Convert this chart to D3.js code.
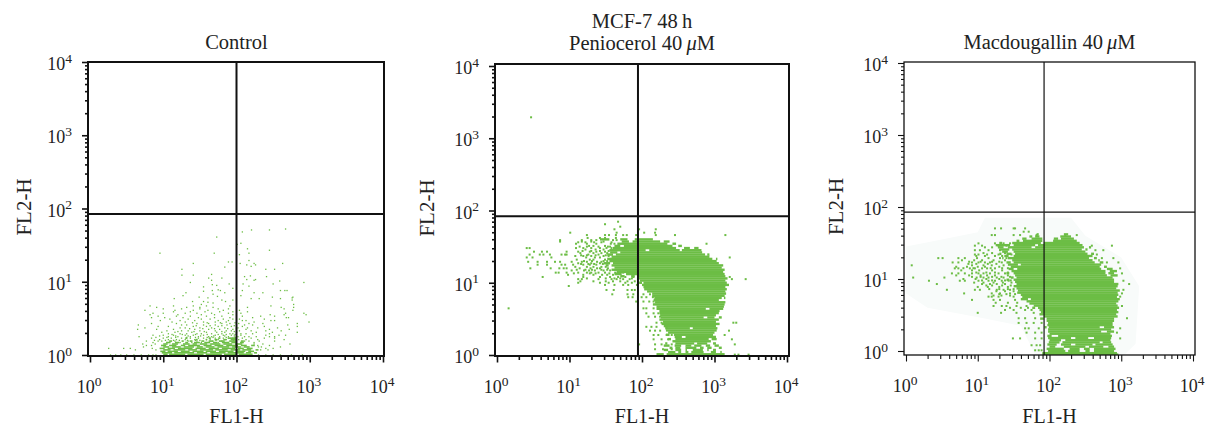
<!DOCTYPE html>
<html>
<head>
<meta charset="utf-8">
<style>
  body { margin: 0; background: #fff; }
  text { font-family: "Liberation Serif", serif; fill: #222; }
</style>
<script src="https://cdn.jsdelivr.net/npm/d3@7"></script>
</head>
<body>
<div id="chart"></div>
<script>
// values below are read off the picture, as log10 of FL1 / FL2
// events rows are [log FL2, [log FL1, ...]]
// spans rows are [log FL2, [[from log FL1, to log FL1], ...]], the solid runs of the cloud

const decades = [0, 1, 2, 3, 4]
const xLabel = "FL1-H"
const yLabel = "FL2-H"
const gateX = [100, 88, 84]
const gateY = [84, 83, 85]

const controlSpans = [
  [.23,[[1.3,1.33],[1.62,1.65],[1.75,1.78],[1.88,2]]],
  [.21,[[1.44,1.47],[1.58,1.6],[1.7,1.74],[1.82,1.86],[1.92,2]]],
  [.19,[[1.08,1.12],[1.25,1.28],[1.36,1.4],[1.52,1.56],[1.62,1.68],[1.76,1.84],[1.9,2],[2.06,2.1]]],
  [.17,[[1.04,1.1],[1.16,1.22],[1.3,1.34],[1.42,1.5],[1.56,1.64],[1.68,1.74],[1.8,1.9],[1.93,2],[2.05,2.1]]],
  [.15,[[1,1.06],[1.12,1.2],[1.27,1.36],[1.4,1.46],[1.5,1.6],[1.64,1.78],[1.82,1.94],[1.98,2.08]]],
  [.13,[[.97,1.04],[1.08,1.18],[1.24,1.3],[1.34,1.5],[1.55,1.66],[1.7,1.82],[1.86,2.02],[2.06,2.14],[2.2,2.25]]],
  [.11,[[1,1.08],[1.12,1.24],[1.28,1.42],[1.46,1.54],[1.58,1.7],[1.74,1.9],[1.94,2.06],[2.1,2.18]]],
  [.09,[[.95,1.02],[1.06,1.16],[1.2,1.4],[1.44,1.58],[1.62,1.76],[1.8,1.98],[2.02,2.1],[2.14,2.22]]],
  [.07,[[1,1.1],[1.14,1.3],[1.34,1.46],[1.5,1.68],[1.71,1.88],[1.92,2.05],[2.08,2.2],[2.26,2.3]]],
  [.05,[[.96,1.03],[1.06,1.2],[1.24,1.36],[1.4,1.55],[1.58,1.72],[1.76,1.96],[2,2.12],[2.16,2.24]]],
  [.03,[[.98,1.12],[1.15,1.42],[1.46,1.6],[1.64,1.85],[1.88,2.1],[2.13,2.2],[2.24,2.28]]],
  [.01,[[1,1.06],[1.08,1.3],[1.33,1.55],[1.58,1.8],[1.83,2],[2.03,2.22]]]
]

const controlEvents = [
  [1.72,[2.67]],[1.707,[2.205,2.45]],[1.68,[2.08]],[1.61,[1.73]],[1.525,[2.06]],[1.51,[2.01]],
  [1.45,[2.15]],[1.43,[2.45]],[1.39,[.955,1.696,2.17]],[1.37,[2.04]],[1.29,[2.17]],
  [1.27,[1.89,1.94]],[1.25,[1.41,2.05,2.24,2.63]],[1.23,[2.14,2.26]],[1.21,[2.2]],[1.2,[1.84]],
  [1.17,[1.255,2.4,2.52]],[1.1,[1.66]],[1.09,[1.255,1.41]],[1.08,[2.19]],[1.07,[2.11,2.41]],
  [1.05,[1.62,1.8]],[1.03,[2.14,2.26]],[1.02,[1.66,2.24]],[1.01,[2.59]],[.99,[1.37,2.92]],
  [.97,[1.9,2.09,2.5]],[.96,[1.67]],[.95,[1.73]],[.94,[2.17]],[.93,[1.55]],[.91,[1.95]],
  [.89,[1.75]],[.88,[1.67,1.78,2.08,2.6,2.66,2.69]],[.87,[1.55]],[.85,[1.31,1.84,2.24,2.36]],
  [.83,[1.68]],[.81,[1.27,2.06]],[.8,[1.74]],[.79,[1.49,2.49,2.77]],[.78,[1.61,2.76]],
  [.77,[1.15,2.2,2.31,2.6]],[.75,[1.8,1.95,2.76]],[.73,[1.4,1.55,1.85]],[.72,[1.61]],[.71,[1.68]],
  [.69,[1.52,2.78]],
  [.67,[.82,1.14,1.41,1.59,1.91,2.47]],[.65,[.91,1.32,1.5,1.68,2.15,2.61,2.78]],
  [.63,[1,1.25,1.5,1.75,1.89,2.65]],[.61,[.75,1.16,1.41,1.61,1.82,2.04,2.77]],
  [.59,[1.14,1.37,1.57,1.77,1.95,2.15]],[.57,[.86,1,1.3,1.46,1.66,1.89,2.06,2.67,2.92]],
  [.55,[.82,1.2,1.52,1.7,1.95,2.46,2.65,2.95]],[.53,[.93,1.18,1.37,1.59,1.8,2.08,2.33,2.52]],
  [.51,[.84,1.02,1.27,1.48,1.7,1.91,2.22,2.68,2.71]],[.49,[1.09,1.34,1.52,1.64,1.82,1.95,2.04,2.38]],
  [.47,[.96,1.23,1.43,1.75,1.89,2.08,2.13,2.47,2.52]],[.45,[1.12,1.3,1.55,1.71,1.86,2.24,2.99]],
  [.44,[1.4,1.6,1.78,1.98]],
  [.43,[.84,1.18,1.46,1.62,1.8,1.91,2.03,2.17,2.36,2.83]],[.41,[.66,1.25,1.32,1.55,1.71,1.87,2.11,2.22,2.7]],
  [.4,[1.45,1.64,1.8,1.97]],
  [.39,[.93,1.07,1.41,1.59,1.75,1.93,2.08,2.38,2.83]],[.37,[.75,1.23,1.3,1.5,1.66,1.84,2.02,2.15,2.29,2.56]],
  [.36,[1.36,1.54,1.7,1.88,2]],
  [.35,[.65,.91,1.14,1.43,1.62,1.77,1.95,2.13,2.45,2.72]],[.33,[1.05,1.25,1.34,1.5,1.71,1.86,1.93,2.04,2.2,2.4,2.61]],
  [.32,[1.2,1.42,1.56,1.8,1.97]],
  [.31,[.98,1.16,1.39,1.59,1.73,1.84,2,2.27,2.49,2.83]],[.29,[1.07,1.23,1.32,1.46,1.52,1.66,1.8,1.91,1.95,2.06,2.13,2.22,2.45]],
  [.28,[1.12,1.26,1.44,1.6,1.75,1.86,1.98]],
  [.27,[.86,1,1.14,1.3,1.41,1.55,1.71,1.82,1.93,2.06,2.4,2.58,2.67]],[.26,[.95,1.17,1.34,1.51,1.69,1.84,1.97]],
  [.25,[.67,1.07,1.2,1.37,1.48,1.62,1.66,1.77,1.89,2.02,2.11,2.17,2.27,2.45,2.52]],
  [.24,[.9,1.05,1.17,1.32,1.44,1.6,1.68,1.86,1.98]],
  [.23,[.84,1,1.11,1.25,1.37,1.48,1.55,1.71,1.82,1.95,2.08,2.2,2.38,2.52]],[.21,[.95,1.07,1.18,1.3,1.43,1.59,1.64,1.75,1.86,2.03,2.13,2.29,2.65]],
  [.2,[.88,1.03,1.14,1.22,1.33,1.44,1.5,1.72,1.96]],
  [.19,[.77,.93,.98,1.16,1.34,1.46,1.68,1.8,2.11,2.17,2.31,2.52]],[.17,[.86,1.05,1.23,1.39,1.52,1.75,1.89,2.06,2.24]],
  [.15,[.72,.89,2.24,2.36,2.73]],[.13,[.77,.84,2.29,2.45]],[.11,[.73,2.3,2.34,2.6]],
  [.09,[.255,.46,.55,.85,2.4,2.5]],[.07,[.62,.9,2.33,2.43]],
  [0,[.28,.35,.42,.5,.6,.7,.8,.86,.9,2.3,2.4,2.5,2.6,2.75,2.9]]
]

const penioSpans = [
  [1.6,[[1.42,1.55],[1.7,1.8],[1.9,2.15]]],
  [1.57,[[1.72,1.82],[1.87,2.25],[2.3,2.38]]],
  [1.54,[[1.66,2.35],[2.42,2.47]]],
  [1.51,[[1.62,1.7],[1.75,2.42],[2.5,2.55]]],
  [1.48,[[1.6,2.47],[2.58,2.66],[2.72,2.78]]],
  [1.45,[[1.55,2.05],[2.1,2.52],[2.55,2.82]]],
  [1.42,[[1.56,1.66],[1.7,2.83]]],
  [1.39,[[1.52,1.6],[1.64,2.87],[2.9,2.93]]],
  [1.36,[[1.58,2.93]]],
  [1.33,[[1.52,2.97],[3.02,3.04]]],
  [1.3,[[1.55,3.03]]],
  [1.27,[[1.47,1.56],[1.6,3.06]]],
  [1.24,[[1.5,1.54],[1.58,3.12]]],
  [1.21,[[1.62,3.1]]],
  [1.18,[[1.58,3.14]]],
  [1.15,[[1.65,3.12]]],
  [1.12,[[1.62,1.72],[1.78,3.14]]],
  [1.09,[[1.7,1.76],[1.85,1.9],[1.94,3.15]]],
  [1.06,[[1.95,3.18]]],
  [1.03,[[1.97,3.15]]],
  [1,[[1.96,2],[2.02,3.17]]],
  [.97,[[2,3.2]]],
  [.94,[[2.02,3.15]]],
  [.91,[[2.03,3.17]]],
  [.88,[[2.07,3.15]]],
  [.85,[[2.14,3.16]]],
  [.82,[[2.14,3.14]]],
  [.79,[[2.17,3.1],[3.13,3.15]]],
  [.76,[[2.16,3.06]]],
  [.73,[[2.18,3.15]]],
  [.7,[[2.15,3.14]]],
  [.67,[[2.2,3.13]]],
  [.64,[[2.2,2.88],[2.93,3.12]]],
  [.61,[[2.24,3.07]]],
  [.58,[[2.24,3.06]]],
  [.55,[[2.25,3.02]]],
  [.52,[[2.26,2.85],[2.9,3],[3.06,3.1]]],
  [.49,[[2.24,3.06]]],
  [.46,[[2.29,3.02]]],
  [.43,[[2.27,3.07]]],
  [.4,[[2.3,3.02]]],
  [.37,[[2.32,2.66],[2.7,3.04]]],
  [.34,[[2.33,3.03]]],
  [.31,[[2.36,3]]],
  [.28,[[2.33,2.38],[2.44,2.98]]],
  [.25,[[2.45,2.55],[2.6,3.02]]],
  [.22,[[2.36,2.4],[2.46,2.92],[2.96,3.03]]],
  [.19,[[2.42,2.95]]],
  [.16,[[2.32,2.35],[2.46,2.72],[2.76,2.9],[2.98,3.02]]],
  [.13,[[2.3,2.38],[2.45,2.54],[2.6,2.68],[2.72,2.82],[2.88,2.94],[3,3.06]]],
  [.1,[[2.38,2.42],[2.46,2.53],[2.6,2.75],[2.8,2.85],[2.9,2.96],[3.06,3.1]]],
  [.07,[[2.3,2.36],[2.46,2.54],[2.6,2.62],[2.7,2.84],[2.9,2.92],[2.98,3.02]]],
  [.04,[[2.36,2.46],[2.5,2.54],[2.6,2.64],[2.68,2.85],[2.95,3.02],[3.08,3.1]]],
  [.01,[[2.2,2.3],[2.34,3.14]]]
]

const penioEvents = [
  [3.29,[.47]],[1.845,[1.67]],[1.81,[1.49]],[1.776,[1.7]],[1.74,[1.62,1.96,2.19]],[1.693,[1.01,1.65,2.03,2.18]],
  [1.66,[1.24,1.49,1.545,1.64,1.74,1.79,1.92,2.19,2.455,3.15]],[1.62,[1.25,1.42,1.49,1.64]],
  [1.59,[.87,1.17,1.3,1.37,1.6,1.65]],[1.57,[.87,1.17,1.3,1.47]],[1.56,[1.12,1.22,1.34,1.44,1.58]],
  [1.54,[1.09,1.24,1.37,1.57,1.62,2.89]],[1.51,[1.27,1.33,1.49]],[1.5,[1.14,1.24,1.4,1.53,1.56]],
  [1.48,[.41,.45,1.09,1.19,1.3,1.42,1.51,1.58]],[1.46,[1.22,1.36,1.47]],[1.44,[1.18,1.3,1.42,1.54]],
  [1.43,[.51,.62,.69,.96,1.12,1.28,1.37,1.49]],[1.41,[1.15,1.33,1.44,1.52]],
  [1.39,[.45,.59,.64,.73,.89,.94,.96,1.26,1.4]],[1.38,[1.16,1.24,1.36,1.5]],[1.37,[1.08,1.19,1.3,1.47,1.54]],
  [1.35,[.41,.49,.75,1.23,1.35,1.42,3.21]],[1.32,[1.1,1.28,1.33,1.49]],[1.3,[1.2,1.31,1.47,1.52]],
  [1.29,[.43,.56,.69,.8,.87,1.03,1.17,1.24,1.38,1.44]],[1.27,[1.12,1.3,1.42]],[1.26,[1.16,1.26,1.34,1.46]],
  [1.25,[.56,.69,.89,.94,1.05,1.19,1.28,1.37]],[1.22,[1.08,1.24,1.33,1.44,1.5]],
  [1.2,[.46,.74,.86,.92,.96,1.14,1.29,1.38,1.42,1.53]],[1.18,[1.1,1.22,1.31,1.44,1.52]],[1.17,[1.03,1.2,1.27,1.35,1.47,1.56]],
  [1.14,[.81,.85,.96,1.12,1.24,1.3,1.4,1.49,1.63,1.74]],[1.13,[1.06,1.28,1.36,1.55,1.66]],[1.11,[.98,1.19,1.33,1.45,1.52,1.6]],
  [1.08,[.63,1.19,1.42,1.56,1.67,1.77,1.88,3.21]],[1.06,[1.24,1.5,1.62,1.7,1.86]],[1.05,[1.12,1.17,1.4,1.58,1.65,1.74,1.83,3.24,3.43]],
  [1.02,[1.15,1.33,1.5,1.6,1.7,1.8,1.9]],[1,[1.12,1.42,1.54,1.77,1.86]],[.97,[1.49,1.62,1.74,1.81,1.93]],
  [.955,[.99]],[.9,[1.51,1.61,1.8,1.86,1.9]],
  [.84,[1.59,1.8,1.88,2.02,2.11]],[.8,[1.81,1.87,1.995,2.06,2.15]],[.74,[1.92,2.02,2.1,2.16]],
  [.646,[.16,2.02,2.06,2.16,2.225]],[.577,[2.06,2.16,2.225]],[.53,[2.09,2.18,2.25]],
  [.447,[2.2,2.27,3.26,3.3]],[.39,[2.06,2.13,2.2,2.34]],[.337,[2.11,2.18,2.25,3.2]],
  [.277,[2.16,2.225,2.34,2.41,3.14]],[.217,[2.16,2.27,2.36,3.24]],[.147,[1.96,2.18,2.27,2.41,3.28]],
  [.08,[2.18,2.29,2.41]],[.005,[3.28,3.33,3.47]]
]

const macdoHalo = [[0,1.45],[.5,1.55],[1,1.65],[1.1,1.85],[2.3,1.85],[2.5,1.6],[3,1.3],[3.25,.9],[3.2,.1],[3.05,-.05],[1.8,-.05],[1.6,.35],[1.1,.45],[.3,.6],[0,.8]]

const macdoSpans = [
  [1.62,[[1.82,1.85],[2.2,2.26]]],
  [1.59,[[1.72,1.76],[1.8,1.86],[2.15,2.3]]],
  [1.56,[[1.62,1.68],[1.75,1.9],[2.06,2.12],[2.16,2.34]]],
  [1.53,[[1.54,1.58],[1.63,1.9],[2.05,2.38]]],
  [1.5,[[1.3,1.34],[1.48,1.88],[1.92,2.42]]],
  [1.47,[[1.25,1.45],[1.5,1.8],[1.84,2.46]]],
  [1.44,[[1.28,1.36],[1.42,1.75],[1.8,2.48],[2.55,2.58]]],
  [1.41,[[1.3,1.44],[1.48,2.45],[2.5,2.53]]],
  [1.38,[[1.34,1.42],[1.5,2.5]]],
  [1.35,[[1.3,1.33],[1.4,1.47],[1.52,2.53],[2.58,2.62]]],
  [1.32,[[1.37,1.43],[1.5,2.6]]],
  [1.29,[[1.34,1.36],[1.42,2.55],[2.62,2.66]]],
  [1.26,[[1.48,2.6],[2.68,2.7]]],
  [1.23,[[1.4,1.46],[1.5,2.63],[2.7,2.75]]],
  [1.2,[[1.42,1.56],[1.6,2.72]]],
  [1.17,[[1.46,2.7],[2.76,2.8]]],
  [1.14,[[1.43,1.5],[1.55,2.72],[2.8,2.88]]],
  [1.11,[[1.47,2.78],[2.84,2.94]]],
  [1.08,[[1.4,1.44],[1.5,2.78],[2.82,2.9]]],
  [1.05,[[1.52,2.8],[2.85,2.95]]],
  [1.02,[[1.46,1.5],[1.54,2.88]]],
  [.99,[[1.4,1.44],[1.5,2.9]]],
  [.96,[[1.52,2.9]]],
  [.93,[[1.54,2.96]]],
  [.9,[[1.5,2.95]]],
  [.87,[[1.54,2.93]]],
  [.84,[[1.56,2.98]]],
  [.81,[[1.55,2.95]]],
  [.78,[[1.6,2.96]]],
  [.75,[[1.62,2.94]]],
  [.72,[[1.6,1.7],[1.74,2.98]]],
  [.69,[[1.68,2.96]]],
  [.66,[[1.72,2.93]]],
  [.63,[[1.78,2.95]]],
  [.6,[[1.76,1.8],[1.84,2.97]]],
  [.57,[[1.86,2.94]]],
  [.54,[[1.88,2.96]]],
  [.51,[[1.86,2.93]]],
  [.48,[[1.92,2.95]]],
  [.45,[[1.87,1.92],[1.96,2.9]]],
  [.42,[[1.96,2.9]]],
  [.39,[[1.98,2.88]]],
  [.36,[[1.97,2.88]]],
  [.33,[[1.93,1.96],[1.99,2.7],[2.76,2.9]]],
  [.3,[[1.98,2.86]]],
  [.27,[[1.98,2.72],[2.8,2.9]]],
  [.24,[[2,2.85]]],
  [.21,[[1.97,2.03],[2.12,2.87]]],
  [.18,[[1.98,2.3],[2.36,2.54],[2.62,2.86]]],
  [.15,[[2,2.16],[2.22,2.85]]],
  [.12,[[1.99,2.14],[2.18,2.7],[2.74,2.86]]],
  [.09,[[1.97,2.1],[2.16,2.3],[2.36,2.6],[2.64,2.88]]],
  [.06,[[2,2.08],[2.2,2.5],[2.55,2.75],[2.82,2.9]]],
  [.03,[[1.96,2.2],[2.28,2.42],[2.48,2.56],[2.62,2.92]]],
  [0,[[1.98,2.22],[2.26,2.42],[2.5,2.56],[2.62,2.9]]],
  [-.03,[[1.9,2.94]]],
  [-.05,[[1.9,2.96]]]
]

const macdoEvents = [
  [1.703,[1.24,1.325,1.5,1.52,1.66]],[1.657,[1.64,1.71]],[1.61,[1.195,1.24,1.5,1.59,1.82,2.22,2.38]],
  [1.495,[1.01,1.24,1.36,1.45]],[1.463,[.96,1.06,1.29,1.4,2.59,2.87]],[1.44,[1.1,1.2]],[1.4,[.96,1.03,1.15,1.31,2.64,2.75]],
  [1.36,[1.08,1.2,1.38]],[1.34,[.96,1.01,1.13,1.29,1.47,2.66]],[1.32,[.98,1.1,1.24,1.34]],
  [1.29,[.45,.51,.73,.82,.99,1.15,1.31,1.4,2.73,2.89]],[1.26,[.78,.95,1.06,1.22,1.38]],[1.24,[.88,1.04,1.2,1.3]],
  [1.23,[.65,.73,.92,1.01,1.1,1.17,1.335,2.8,2.96]],[1.21,[.87,.98,1.14,1.26]],
  [1.19,[.08,.92,1.08,1.195,1.36]],[1.17,[.7,.85,1,1.1,1.3]],[1.15,[.8,.94,1.18,1.34,1.42]],
  [1.148,[.68,.73,.89,.96,1.06,1.13,1.24,2.985]],[1.12,[.77,.92,1.02,1.2,1.34]],[1.09,[.98,1.12,1.24,1.42]],
  [1.078,[.64,.73,.82,.92,1.01,1.08,1.17,1.29,1.38,3.01]],[1.05,[.7,.88,1.04,1.13,1.24,1.42]],[1.03,[.92,1.04,1.2,1.33,1.45]],
  [1.02,[.1,.535,.985,1.08,1.15,1.265,1.36]],[1,[.8,.97,1.12,1.3]],[.98,[1.06,1.2,1.38,1.46]],
  [.976,[.32,.75,.82,1.01,1.15,1.24,1.335,1.43,3.03]],[.95,[.95,1.08,1.22,1.35,1.47]],
  [.93,[.43,1.06,1.17,1.265,1.38,3.11]],[.91,[1.12,1.2,1.34,1.46]],[.89,[1,1.14,1.3,1.42]],[.86,[1.16,1.3,1.42,1.5]],
  [.85,[.57,.96,1.03,1.265,1.36,1.45,3.03]],[.83,[1.26,1.38,1.5]],
  [.8,[.81,1.195,1.31,1.45,3.01]],[.79,[1.3,1.4,1.52]],[.77,[1.22,1.33,1.45]],[.755,[1.15,1.195,1.29,1.5,2.985]],
  [.71,[.92,1.22,1.31,1.52]],[.67,[1.25,1.42,1.55]],[.625,[1.22,1.335,1.4,1.54,1.68,3.01]],
  [.6,[1.45,1.6,1.7]],[.57,[1.38,1.5,1.66,1.75]],[.53,[1,1.325,1.54,1.78]],[.455,[1.57,1.66,1.8,3.08]],
  [.39,[1.57,1.68,1.78,1.89]],[.315,[1.66,1.71,1.85,2.985]],[.255,[1.68,1.8,1.89,2.94]],
  [.175,[1.49,1.59,1.8,1.89,2.985]],[.08,[1.75,1.82,1.87]],[.01,[1.8,1.85,1.89]]
]

// layout
const width = 1209
const height = 428
const green = "#6cbd45"

const panels = [
  { frame: [88, 384, 62, 356], xr: [90, 383], yr: [355, 62], line: 2, dot: 1.3, band: 1.6,
    title: ["Control"], titleY: 49, yLabX: 31, spans: controlSpans, events: controlEvents },
  { frame: [495, 789, 64, 356], xr: [497, 787], yr: [355, 66], line: 2, dot: 2, band: 2.4,
    title: ["MCF-7 48\u2009h", "Peniocerol 40\u2009"], mu: true, titleY: 28, yLabX: 434, spans: penioSpans, events: penioEvents },
  { frame: [904, 1195, 62, 355], xr: [906, 1193], yr: [351, 63], line: 1.2, dot: 2, band: 2.4,
    title: ["Macdougallin 40\u2009"], mu: true, titleY: 49, yLabX: 843, halo: macdoHalo, spans: macdoSpans, events: macdoEvents }
]

const svg = d3.select("#chart").append("svg")
  .attr("width", width).attr("height", height)
  .style("display", "block")

const flatten = rows => rows.flatMap(([fl2, fl1s]) => fl1s.map(fl1 => [fl1, fl2]))
const minors = d3.range(0, 4).flatMap(e => d3.range(1, 10).map(k => k * 10 ** e)).concat([1e4])

panels.forEach((p, i) => {
  const [left, right, top, bottom] = p.frame
  const x = d3.scaleLog().domain([1, 1e4]).range(p.xr)
  const y = d3.scaleLog().domain([1, 1e4]).range(p.yr)
  const g = svg.append("g").attr("id", "panel" + i)

  const clipId = "clip" + i
  svg.append("clipPath").attr("id", clipId).append("rect")
    .attr("x", left).attr("y", top).attr("width", right - left).attr("height", bottom - top)
  const plot = g.append("g").attr("clip-path", `url(#${clipId})`)

  if (p.halo) {
    const outline = d3.line().x(d => x(10 ** d[0])).y(d => y(10 ** d[1]))
    plot.append("path").attr("d", outline(p.halo) + "Z").attr("fill", "#f8fbfa")
  }

  plot.selectAll(".span").data(flatten(p.spans)).join("rect")
    .attr("class", "span")
    .attr("x", d => x(10 ** d[0][0])).attr("y", d => y(10 ** d[1]) - p.band / 2)
    .attr("width", d => x(10 ** d[0][1]) - x(10 ** d[0][0])).attr("height", p.band)
    .attr("fill", green)

  plot.selectAll(".event").data(flatten(p.events)).join("rect")
    .attr("class", "event")
    .attr("x", d => x(10 ** d[0]) - p.dot / 2).attr("y", d => y(10 ** d[1]) - p.dot / 2)
    .attr("width", p.dot).attr("height", p.dot).attr("fill", green)

  // quadrant gates
  plot.append("line").attr("x1", x(gateX[i])).attr("x2", x(gateX[i])).attr("y1", top).attr("y2", bottom)
    .attr("stroke", "#111").attr("stroke-width", p.line)
  plot.append("line").attr("x1", left).attr("x2", right).attr("y1", y(gateY[i])).attr("y2", y(gateY[i]))
    .attr("stroke", "#111").attr("stroke-width", p.line)

  // axes, minor ticks first then lengthen the decades
  const xAxis = d3.axisBottom(x).tickValues(minors).tickSize(4).tickFormat("")
  const yAxis = d3.axisLeft(y).tickValues(minors).tickSize(3).tickFormat("")
  const xG = g.append("g").attr("transform", `translate(0,${bottom})`).call(xAxis)
  const yG = g.append("g").attr("transform", `translate(${left},0)`).call(yAxis)
  xG.select(".domain").remove()
  yG.select(".domain").remove()
  g.selectAll(".tick line").attr("stroke", "#111").attr("stroke-width", p.line === 2 ? 1.6 : 1.1)

  const isDecade = d => decades.includes(Math.round(Math.log10(d) * 1000) / 1000)
  xG.selectAll(".tick").filter(isDecade).select("line").attr("y2", 6.5)
  yG.selectAll(".tick").filter(isDecade).select("line").attr("x2", -6)

  const power = (sel, e) => {
    sel.text("10")
    sel.append("tspan").attr("dy", -7.5).attr("font-size", 13.5).text(e)
  }
  xG.selectAll(".tick").filter(isDecade).each(function (d) {
    d3.select(this).select("text").remove()
    d3.select(this).append("text")
      .attr("x", -1.5).attr("y", 37).attr("text-anchor", "middle")
      .attr("font-size", 18)
      .call(power, Math.round(Math.log10(d)))
  })
  yG.selectAll(".tick").filter(isDecade).each(function (d) {
    d3.select(this).select("text").remove()
    d3.select(this).append("text")
      .attr("x", -16).attr("y", 7.5).attr("text-anchor", "end")
      .attr("font-size", 18)
      .call(power, Math.round(Math.log10(d)))
  })

  // titles and axis labels
  const cx = x(100)
  p.title.forEach((t, k) => {
    const label = g.append("text").attr("x", cx).attr("y", p.titleY + k * 22)
      .attr("text-anchor", "middle").attr("font-size", 20.5).text(t)
    if (p.mu && k === p.title.length - 1) {
      label.append("tspan").attr("font-style", "italic").text("\u03bc")
      label.append("tspan").text("M")
    }
  })
  g.append("text").attr("x", cx).attr("y", 423).attr("text-anchor", "middle")
    .attr("font-size", 20).text(xLabel)
  g.append("text").attr("transform", `translate(${p.yLabX},${(top + bottom) / 2 - 2}) rotate(-90)`)
    .attr("text-anchor", "middle").attr("font-size", 21).text(yLabel)

  g.append("rect").attr("x", left).attr("y", top).attr("width", right - left).attr("height", bottom - top)
    .attr("fill", "none").attr("stroke", "#111").attr("stroke-width", p.line === 2 ? 2 : 1.3)
})
</script>
</body>
</html>
